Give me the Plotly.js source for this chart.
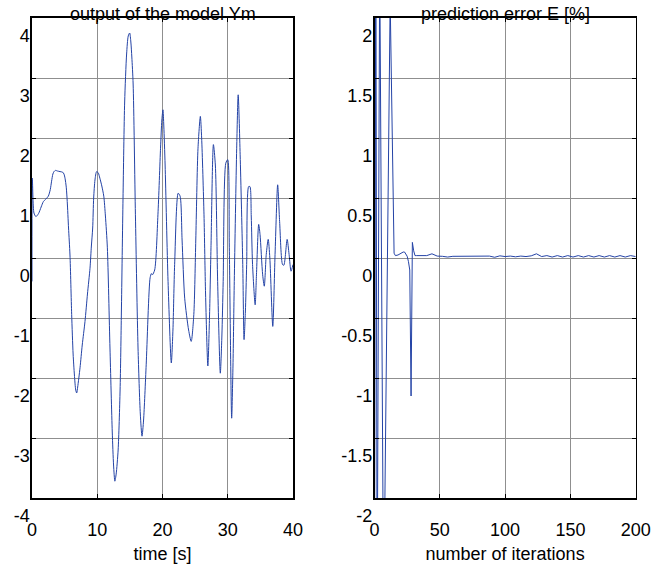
<!DOCTYPE html>
<html>
<head>
<meta charset="utf-8">
<script src="https://cdn.plot.ly/plotly-3.0.1.min.js"></script>
<style>html,body{margin:0;padding:0;background:#fff;}#chart{width:668px;height:567px;}</style>
</head>
<body>
<div id="chart"></div>
<script>
const timeS = [0, 0.05, 0.3, 0.6, 1.0, 1.4, 1.74, 2.1, 2.5, 2.8, 3.0, 3.2, 3.37, 3.6, 3.9, 4.3, 4.7, 4.9, 5.06, 5.25, 5.4, 5.6, 5.82, 6.08, 6.3, 6.5, 6.7, 6.85, 7.0, 7.36, 7.7, 8.12, 8.5, 8.89, 9.1, 9.3, 9.45, 9.65, 9.9, 10.15, 10.4, 10.7, 11.0, 11.25, 11.55, 11.95, 12.3, 12.5, 12.7, 12.9, 13.2, 13.5, 13.7, 13.95, 14.2, 14.5, 14.75, 14.97, 15.15, 15.3, 15.5, 15.85, 16.25, 16.6, 16.86, 17.1, 17.5, 18.1, 18.3, 18.45, 18.8, 19.3, 19.7, 19.9, 20.07, 20.2, 20.4, 20.85, 21.35, 21.6, 21.86, 22.4, 22.7, 23.0, 23.4, 24.0, 24.4, 24.8, 25.1, 25.44, 25.8, 26.0, 26.36, 26.6, 26.95, 27.2, 27.43, 27.8, 28.1, 28.45, 28.86, 29.1, 29.3, 29.7, 30.0, 30.24, 30.6, 30.8, 31.0, 31.37, 31.6, 31.9, 32.3, 32.5, 32.7, 32.9, 33.2, 33.4, 33.6, 33.8, 34.2, 34.4, 34.74, 34.95, 35.35, 35.6, 35.9, 36.2, 36.45, 36.9, 37.25, 37.65, 37.95, 38.4, 38.6, 39.1, 39.4, 39.7, 40.0];
const modelOutput = [-0.39, 1.33, 0.75, 0.69, 0.74, 0.85, 0.94, 0.98, 1.03, 1.14, 1.28, 1.4, 1.44, 1.46, 1.45, 1.44, 1.43, 1.4, 1.33, 1.18, 0.94, 0.5, 0.05, -0.94, -1.6, -1.95, -2.2, -2.25, -2.15, -1.83, -1.45, -1.06, -0.6, -0.17, 0.2, 0.5, 1.0, 1.3, 1.44, 1.42, 1.33, 1.2, 1.03, 0.7, 0.17, -1.5, -2.9, -3.45, -3.72, -3.6, -3.2, -2.2, -0.9, 1.0, 2.6, 3.4, 3.7, 3.75, 3.6, 3.35, 2.9, 0.72, -1.5, -2.6, -2.97, -2.7, -1.78, -0.33, -0.26, -0.28, -0.2, 0.72, 1.83, 2.3, 2.47, 2.2, 1.55, -0.39, -1.75, -1.2, -0.11, 1.08, 1.03, 0.3, -0.67, -1.2, -1.39, -0.94, 0.3, 1.83, 2.36, 2.0, 0.72, -0.6, -1.8, -1.0, 0.17, 1.89, 1.55, -0.39, -1.92, -1.3, -0.39, 1.58, 1.64, 0.17, -2.67, -1.8, -0.39, 1.83, 2.72, 1.72, -0.11, -1.36, -0.9, -0.11, 1.19, 1.19, 0.7, -0.11, -0.78, -0.28, 0.56, 0.39, -0.28, -0.47, 0.06, 0.31, 0.0, -1.14, 0.06, 1.22, 0.61, -0.11, -0.12, 0.31, 0.06, -0.22, -0.11];

const iterations = [0, 1, 2, 4, 7, 12, 15, 16, 18, 20, 22, 23, 24, 25, 26, 27, 28, 29, 30, 31, 32, 36, 40, 44, 48, 52, 56, 60, 64, 68, 72, 76, 80, 84, 88, 92, 96, 100, 104, 108, 112, 116, 120, 124, 128, 132, 136, 140, 144, 148, 152, 156, 160, 164, 168, 172, 176, 180, 184, 188, 192, 196, 200];
const predictionError = [-3, 3, -3, 2.5, -3, 2.15, 0.04, 0.02, 0.025, 0.04, 0.05, 0.05, 0.035, 0.015, -0.03, -0.1, -1.15, 0.13, 0.06, 0.02, 0.02, 0.018, 0.02, 0.035, 0.016, 0.014, 0.008, 0.014, 0.015, 0.014, 0.015, 0.014, 0.015, 0.014, 0.016, 0.006, 0.018, 0.012, 0.016, 0.01, 0.016, 0.012, 0.018, 0.035, 0.012, 0.02, 0.008, 0.02, 0.008, 0.02, 0.008, 0.02, 0.008, 0.02, 0.008, 0.02, 0.008, 0.02, 0.008, 0.02, 0.008, 0.02, 0.012];

const leftXTicks = [0, 10, 20, 30, 40];
const leftXLabels = ['0', '10', '20', '30', '40'];
const leftYTicks = [-4, -3, -2, -1, 0, 1, 2, 3, 4];
const leftYLabels = ['-4', '-3', '-2', '-1', '0', '1', '2', '3', '4'];
const rightXTicks = [0, 50, 100, 150, 200];
const rightXLabels = ['0', '50', '100', '150', '200'];
const rightYTicks = [-2, -1.5, -1, -0.5, 0, 0.5, 1, 1.5, 2];
const rightYLabels = ['-2', '-1.5', '-1', '-0.5', '0', '0.5', '1', '1.5', '2'];

const leftTitle = 'output of the model Ym';
const rightTitle = 'prediction error E [%]';
const leftXTitle = 'time [s]';
const rightXTitle = 'number of iterations';

const FONT = {family: 'Liberation Sans, Arial, sans-serif', size: 18, color: '#000'};
const lineColor = '#2443a6';

function xAx(domain, range, vals, text, title) {
  return {
    domain: domain, range: range, tickmode: 'array', tickvals: vals, ticktext: text,
    showgrid: true, gridcolor: '#8f8f8f', gridwidth: 1, zeroline: false,
    showline: true, linecolor: '#000', linewidth: 1.6, mirror: 'ticks',
    ticks: 'inside', ticklen: 4, tickcolor: '#000', tickwidth: 1,
    tickfont: FONT, ticklabelstandoff: 15,
    title: {text: title, font: FONT, standoff: 8}
  };
}
function yAx(domain, range, vals, text) {
  return {
    domain: domain, range: range, tickmode: 'array', tickvals: vals, ticktext: text,
    showgrid: true, gridcolor: '#8f8f8f', gridwidth: 1, zeroline: false,
    showline: true, linecolor: '#000', linewidth: 1.6, mirror: 'ticks',
    ticks: 'inside', ticklen: 4, tickcolor: '#000', tickwidth: 1,
    tickfont: FONT, ticklabelstandoff: -3, ticklabelshift: 18
  };
}

const yDomain = [69/567, 549/567];
const traces = [
  {x: timeS, y: modelOutput, type: 'scatter', mode: 'lines', xaxis: 'x', yaxis: 'y',
   line: {color: lineColor, width: 1, shape: 'spline', smoothing: 0.7}, hoverinfo: 'skip'},
  {x: iterations, y: predictionError, type: 'scatter', mode: 'lines', xaxis: 'x2', yaxis: 'y2',
   line: {color: lineColor, width: 1}, hoverinfo: 'skip'}
];

const layout = {
  width: 668, height: 567,
  margin: {l: 0, r: 0, t: 0, b: 0, pad: 0},
  paper_bgcolor: '#fff', plot_bgcolor: '#fff',
  showlegend: false,
  font: FONT,
  xaxis: xAx([32/668, 293/668], [0, 40], leftXTicks, leftXLabels, leftXTitle),
  yaxis: yAx(yDomain, [-4, 4], leftYTicks, leftYLabels),
  xaxis2: Object.assign(xAx([374.5/668, 635.7/668], [0, 200], rightXTicks, rightXLabels, rightXTitle), {anchor: 'y2'}),
  yaxis2: Object.assign(yAx(yDomain, [-2, 2], rightYTicks, rightYLabels), {anchor: 'x2'}),
  annotations: [
    {text: leftTitle, xref: 'paper', yref: 'paper', x: 162.5/668, y: (567-14)/567, xanchor: 'center', yanchor: 'middle', showarrow: false, font: FONT},
    {text: rightTitle, xref: 'paper', yref: 'paper', x: 505/668, y: (567-14)/567, xanchor: 'center', yanchor: 'middle', showarrow: false, font: FONT}
  ]
};
layout.xaxis.anchor = 'y';
layout.yaxis.anchor = 'x';

Plotly.newPlot('chart', traces, layout, {displayModeBar: false, staticPlot: true});
</script>
</body>
</html>
